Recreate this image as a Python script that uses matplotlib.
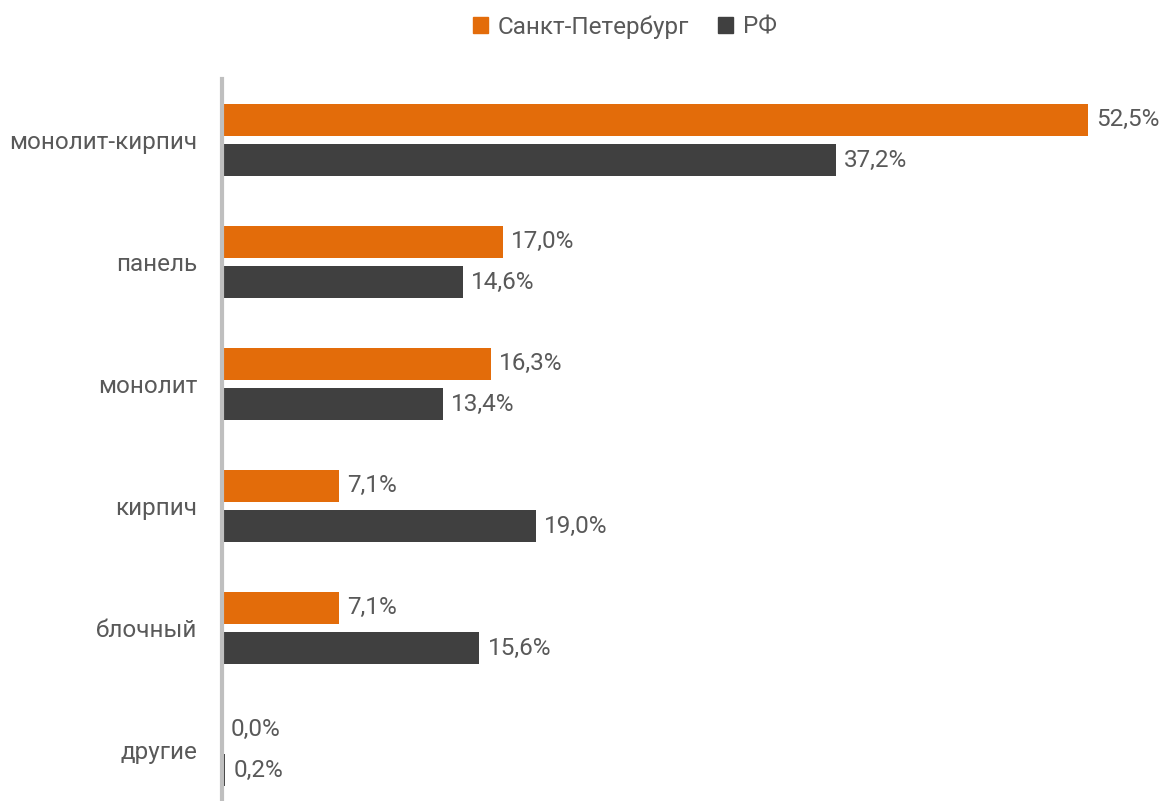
import numpy as np
import matplotlib.pyplot as plt
from matplotlib.patches import Patch

plt.rcParams['font.family'] = ['Roboto', 'DejaVu Sans']

categories = ["монолит-кирпич", "панель", "монолит", "кирпич", "блочный", "другие"]
spb = [52.5, 17.0, 16.3, 7.1, 7.1, 0.0]
rf = [37.2, 14.6, 13.4, 19.0, 15.6, 0.2]
series_names = ["Санкт-Петербург", "РФ"]

orange = "#E36C0A"
dark = "#404040"
text_col = "#595959"
fs = 17.5

W, H = 1163, 801
fig = plt.figure(figsize=(W / 100, H / 100), dpi=100)
ax = fig.add_axes([222 / W, 0, (1150 - 222) / W, (H - 79) / H])

y = np.arange(len(categories))
bh = 0.26
off = 0.165
b1 = ax.barh(y - off, spb, height=bh, color=orange)
b2 = ax.barh(y + off, rf, height=bh, color=dark)

ax.set_xlim(0, 928 / 16.5)
ax.set_ylim(-0.5 + 722 / 122, -0.5)

for bars, vals in ((b1, spb), (b2, rf)):
    for bar, v in zip(bars, vals):
        ax.annotate(f"{v:.1f}%".replace(".", ","),
                    (v, bar.get_y() + bar.get_height() / 2),
                    xytext=(6, 0), textcoords="offset points",
                    va="center", ha="left", fontsize=fs, color=text_col)

ax.set_yticks(y)
ax.set_yticklabels(categories, fontsize=fs, color=text_col)
ax.tick_params(axis="y", length=0, pad=18)
ax.set_xticks([])
for s in ("top", "right", "bottom"):
    ax.spines[s].set_visible(False)
ax.spines["left"].set_color("#BFBFBF")
ax.spines["left"].set_linewidth(3)
ax.spines["left"].set_zorder(5)

handles = [Patch(color=orange), Patch(color=dark)]
fig.legend(handles, series_names, loc="center", bbox_to_anchor=(625 / W, 1 - 27 / H),
           ncol=2, frameon=False, fontsize=fs, handlelength=0.6, handleheight=0.6,
           handletextpad=0.4, columnspacing=1.2, labelcolor=text_col)

fig.savefig("out.png", dpi=100)
